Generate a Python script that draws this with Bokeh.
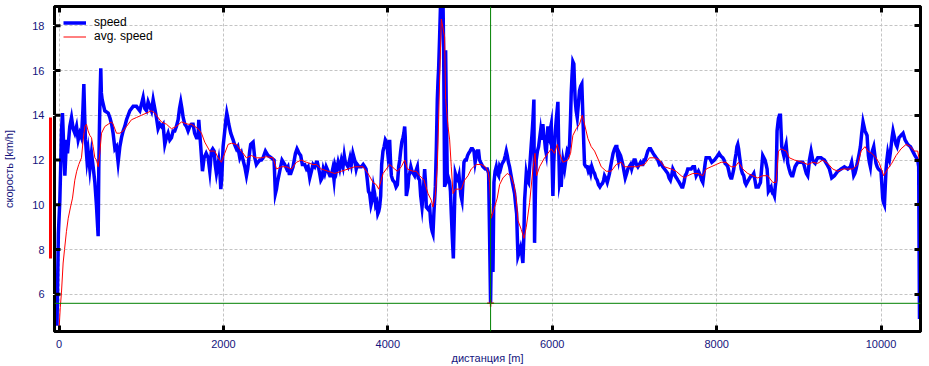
from bokeh.plotting import figure
from bokeh.models import (Range1d, LinearAxis, FixedTicker, Span, Legend, LegendItem)
from bokeh.embed import file_html
from bokeh.resources import INLINE

# ---------------- data ----------------
dist = [-25, -15, -8, 10, 22, 30, 42, 54, 71, 91, 103, 131, 152, 172, 192, 213, 233, 253, 273, 290,
        302, 312, 322, 340, 354, 375, 395, 415, 436, 455, 470, 476, 484, 492, 500, 508, 515, 525, 557, 598,
        618, 640, 658, 680, 699, 719, 740, 760, 780, 800, 821, 861, 902, 942, 983, 1023, 1044, 1064, 1084, 1104,
        1125, 1145, 1165, 1185, 1205, 1226, 1246, 1266, 1287, 1307, 1327, 1348, 1368, 1388, 1408, 1428, 1449, 1466, 1481, 1495,
        1510, 1530, 1550, 1570, 1591, 1611, 1631, 1650, 1672, 1692, 1700, 1724, 1745, 1765, 1790, 1814, 1834, 1854, 1870, 1887,
        1900, 1915, 1943, 1955, 1968, 1980, 1996, 2016, 2030, 2041, 2052, 2065, 2089, 2118, 2135, 2158, 2175, 2199, 2220, 2239,
        2260, 2280, 2295, 2308, 2320, 2332, 2361, 2381, 2401, 2420, 2442, 2462, 2482, 2511, 2543, 2584, 2616, 2632, 2645, 2657,
        2685, 2713, 2730, 2746, 2770, 2786, 2800, 2819, 2847, 2876, 2895, 2908, 2920, 2940, 2960, 2989, 3010, 3030, 3050, 3070,
        3090, 3111, 3130, 3143, 3160, 3171, 3185, 3200, 3215, 3232, 3250, 3273, 3295, 3313, 3330, 3346, 3360, 3374, 3395, 3415,
        3435, 3455, 3470, 3483, 3500, 3516, 3540, 3556, 3575, 3597, 3615, 3629, 3650, 3678, 3700, 3719, 3735, 3751, 3765, 3779,
        3795, 3808, 3825, 3840, 3852, 3864, 3878, 3889, 3900, 3913, 3925, 3941, 3955, 3970, 3985, 4002, 4012, 4022, 4032, 4043,
        4060, 4083, 4100, 4116, 4132, 4145, 4156, 4170, 4184, 4195, 4205, 4212, 4225, 4235, 4245, 4255, 4266, 4280, 4294, 4310,
        4326, 4340, 4359, 4370, 4387, 4400, 4416, 4430, 4448, 4458, 4468, 4490, 4509, 4520, 4529, 4540, 4549, 4560, 4578, 4590,
        4602, 4610, 4618, 4630, 4643, 4660, 4671, 4680, 4691, 4697, 4703, 4712, 4724, 4737, 4752, 4762, 4772, 4785, 4797, 4809,
        4821, 4837, 4853, 4866, 4878, 4890, 4902, 4914, 4926, 4940, 4955, 4970, 4983, 5000, 5015, 5030, 5048, 5062, 5076, 5090,
        5104, 5116, 5129, 5157, 5186, 5210, 5226, 5238, 5250, 5258, 5267, 5279, 5291, 5305, 5319, 5334, 5348, 5360, 5372, 5386,
        5400, 5415, 5429, 5441, 5453, 5467, 5481, 5495, 5510, 5526, 5542, 5555, 5567, 5575, 5583, 5600, 5615, 5630, 5643, 5654,
        5664, 5684, 5698, 5712, 5728, 5745, 5755, 5765, 5777, 5781, 5785, 5795, 5805, 5820, 5834, 5858, 5870, 5886, 5897, 5907,
        5917, 5927, 5937, 5947, 5958, 5968, 5978, 5988, 5998, 6008, 6018, 6028, 6038, 6049, 6059, 6069, 6079, 6089, 6099, 6109,
        6120, 6130, 6150, 6165, 6182, 6195, 6211, 6222, 6231, 6241, 6251, 6263, 6270, 6279, 6291, 6304, 6318, 6332, 6346, 6360,
        6368, 6377, 6385, 6393, 6410, 6426, 6440, 6454, 6468, 6482, 6500, 6515, 6530, 6547, 6563, 6580, 6596, 6612, 6625, 6636,
        6650, 6669, 6683, 6697, 6710, 6725, 6740, 6758, 6772, 6786, 6796, 6806, 6818, 6831, 6845, 6859, 6873, 6888, 6905, 6920,
        6935, 6952, 6966, 6981, 6995, 7009, 7025, 7042, 7058, 7074, 7088, 7102, 7117, 7131, 7147, 7163, 7180, 7196, 7212, 7228,
        7245, 7264, 7285, 7305, 7325, 7345, 7366, 7386, 7406, 7422, 7438, 7452, 7467, 7480, 7495, 7512, 7528, 7545, 7560, 7575,
        7588, 7603, 7617, 7633, 7649, 7670, 7690, 7710, 7730, 7740, 7751, 7765, 7779, 7791, 7803, 7818, 7832, 7842, 7852, 7862,
        7872, 7893, 7913, 7927, 7941, 7957, 7973, 7994, 8014, 8030, 8046, 8060, 8075, 8090, 8103, 8120, 8136, 8148, 8160, 8172,
        8184, 8197, 8209, 8223, 8237, 8247, 8257, 8267, 8277, 8288, 8298, 8314, 8330, 8345, 8358, 8372, 8387, 8403, 8419, 8436,
        8452, 8466, 8480, 8494, 8508, 8520, 8533, 8547, 8561, 8575, 8589, 8602, 8614, 8622, 8630, 8646, 8662, 8672, 8683, 8693,
        8703, 8713, 8723, 8730, 8735, 8744, 8752, 8764, 8776, 8784, 8792, 8804, 8817, 8831, 8845, 8855, 8865, 8882, 8898, 8912,
        8926, 8940, 8954, 8970, 8987, 9003, 9019, 9033, 9048, 9062, 9076, 9092, 9108, 9118, 9129, 9139, 9149, 9159, 9169, 9184,
        9198, 9214, 9230, 9250, 9270, 9290, 9311, 9327, 9343, 9357, 9372, 9386, 9400, 9416, 9433, 9453, 9473, 9494, 9514, 9534,
        9554, 9575, 9595, 9611, 9627, 9643, 9656, 9668, 9682, 9696, 9710, 9724, 9737, 9749, 9757, 9765, 9773, 9781, 9793, 9805,
        9818, 9830, 9838, 9846, 9858, 9870, 9878, 9886, 9898, 9911, 9925, 9939, 9953, 9967, 9983, 9999, 10010, 10020, 10030, 10041,
        10051, 10061, 10071, 10081, 10091, 10101, 10112, 10122, 10134, 10146, 10158, 10170, 10182, 10195, 10207, 10219, 10231, 10243, 10256, 10268,
        10280, 10292, 10308, 10324, 10340, 10357, 10371, 10385, 10399, 10413, 10430, 10446, 10458, 10463, 10468]

speed = [4.6, 7.0, 8.7, 10.2, 12.0, 13.3, 14.1, 12.9, 11.3, 12.9, 12.3, 13.5, 13.9, 13.4, 13.2, 13.5, 12.9, 13.2, 13.0, 14.2,
         15.4, 14.0, 12.9, 12.0, 12.4, 11.6, 12.3, 11.7, 11.0, 10.0, 9.0, 8.6, 11.7, 13.5, 15.0, 16.1, 15.0, 14.7, 14.2, 14.1,
         13.9, 13.6, 13.2, 12.5, 12.6, 11.9, 12.6, 13.0, 13.3, 13.5, 13.8, 14.2, 14.4, 14.4, 14.2, 14.8, 14.3, 14.2, 14.6, 14.4,
         14.2, 14.7, 14.3, 13.9, 13.4, 13.6, 13.5, 13.6, 12.7, 13.0, 13.2, 12.9, 13.0, 13.3, 13.3, 13.5, 13.8, 14.3, 14.6, 14.3,
         13.9, 13.6, 13.5, 13.3, 13.5, 13.6, 13.6, 13.2, 13.0, 13.0, 13.8, 12.6, 11.5, 12.1, 12.3, 12.1, 11.5, 12.4, 12.5, 12.4,
         11.8, 11.4, 12.0, 11.6, 10.7, 11.2, 12.6, 13.3, 13.8, 14.1, 13.9, 13.6, 13.2, 12.9, 12.7, 12.5, 12.6, 12.1, 12.3, 12.0,
         11.7, 11.3, 11.6, 12.0, 12.4, 12.7, 12.8, 12.1, 11.8, 11.9, 12.0, 12.0, 12.1, 12.4, 12.2, 12.1, 12.0, 10.5, 10.7, 11.0,
         11.5, 12.0, 11.9, 11.8, 11.6, 11.7, 11.4, 11.4, 11.7, 12.3, 12.5, 12.4, 12.3, 12.2, 11.8, 11.8, 11.6, 11.7, 11.2, 11.5,
         11.8, 11.7, 11.9, 11.9, 11.6, 11.4, 11.1, 11.2, 11.6, 11.4, 11.7, 11.5, 11.3, 11.3, 11.6, 11.1, 11.7, 11.5, 11.9, 11.6,
         12.0, 11.7, 12.2, 11.9, 11.8, 11.7, 12.1, 11.8, 12.3, 12.0, 11.6, 11.8, 11.7, 11.7, 11.8, 11.7, 11.6, 11.1, 10.6, 10.5,
         10.0, 10.2, 10.8, 10.5, 10.0, 10.1, 9.6, 9.7, 9.9, 10.4, 11.8, 12.4, 12.6, 12.9, 12.8, 12.2, 12.5, 12.9, 12.0, 11.3,
         11.1, 11.0, 10.8, 10.9, 11.7, 12.0, 12.4, 12.8, 13.0, 13.2, 13.5, 13.0, 10.4, 10.6, 10.8, 11.3, 11.4, 11.7, 11.5, 11.4,
         11.3, 11.5, 11.7, 11.2, 11.1, 10.4, 9.9, 10.5, 11.6, 11.0, 9.9, 9.8, 9.9, 9.3, 9.0, 8.8, 8.7, 9.6, 10.8, 12.5,
         14.7, 15.5, 16.1, 17.5, 19.2, 19.3, 19.2, 16.5, 10.8, 14.0, 16.9, 14.0, 11.1, 11.2, 11.0, 10.6, 9.6, 8.5, 7.6, 9.5,
         11.4, 11.2, 11.1, 11.3, 10.8, 10.4, 10.2, 11.0, 11.9, 12.0, 12.0, 12.2, 12.3, 12.4, 12.5, 12.5, 12.4, 11.9, 12.2, 12.4,
         12.4, 12.0, 11.9, 11.7, 11.6, 11.6, 11.4, 8.6, 5.6, 8.0, 9.6, 7.0, 11.0, 11.5, 11.7, 11.4, 11.3, 11.7, 11.6, 11.8,
         11.9, 12.0, 12.2, 12.4, 12.2, 11.9, 11.7, 11.4, 11.1, 10.8, 10.5, 10.0, 9.6, 8.6, 7.7, 7.9, 8.1, 7.8, 7.4, 8.5,
         10.2, 11.4, 11.1, 11.0, 11.8, 12.7, 13.2, 13.8, 14.7, 11.0, 8.3, 10.5, 12.0, 12.4, 12.6, 13.3, 12.9, 13.6, 13.1, 12.9,
         12.5, 12.3, 12.9, 13.5, 13.0, 12.9, 13.4, 13.6, 12.0, 10.4, 11.8, 12.7, 13.3, 13.8, 14.2, 14.6, 12.5, 11.0, 11.2, 10.8,
         11.6, 12.0, 11.6, 12.0, 12.4, 12.3, 12.7, 13.8, 15.0, 15.8, 16.4, 16.3, 15.5, 14.7, 14.2, 13.9, 14.5, 15.1, 15.3, 15.4,
         14.5, 13.5, 12.6, 11.8, 11.7, 11.7, 11.5, 11.6, 11.4, 11.7, 11.5, 11.4, 11.2, 11.1, 10.9, 10.8, 10.9, 10.96, 11.1, 11.3,
         11.2, 11.0, 11.2, 11.4, 11.7, 12.0, 12.3, 12.5, 12.6, 12.6, 12.2, 12.0, 12.3, 12.2, 12.0, 11.8, 11.5, 11.2, 11.4, 11.6,
         11.7, 11.8, 11.6, 11.8, 12.0, 12.0, 11.8, 11.7, 11.8, 11.9, 11.8, 11.8, 12.0, 12.0, 12.2, 12.4, 12.5, 12.5, 12.4, 12.3,
         12.2, 12.1, 12.0, 11.8, 11.85, 11.7, 11.6, 11.5, 11.4, 11.2, 11.1, 11.3, 11.6, 11.5, 11.3, 11.2, 11.1, 11.0, 10.9, 10.8,
         10.8, 11.0, 11.3, 11.4, 11.6, 11.6, 11.6, 11.7, 11.7, 11.5, 11.3, 11.4, 11.5, 11.4, 11.3, 11.1, 11.0, 11.3, 11.6, 11.9,
         12.1, 12.1, 12.1, 12.0, 11.9, 11.95, 12.0, 12.1, 12.2, 12.3, 12.2, 12.15, 12.1, 12.0, 11.85, 11.8, 11.7, 11.5, 11.3, 11.2,
         11.2, 11.4, 11.6, 12.0, 12.3, 12.6, 12.7, 12.5, 12.2, 11.9, 11.6, 11.4, 11.3, 11.0, 10.9, 11.0, 11.1, 11.2, 11.3, 11.3,
         11.4, 11.1, 10.8, 10.8, 10.8, 10.9, 11.0, 11.6, 12.2, 12.1, 12.0, 11.8, 11.6, 11.1, 10.6, 10.7, 10.8, 10.6, 10.5, 10.5,
         10.4, 10.8, 11.1, 12.3, 13.3, 13.6, 13.85, 14.0, 14.0, 13.3, 12.6, 12.4, 12.2, 12.5, 12.7, 12.3, 11.85, 11.6, 11.4, 11.3,
         11.3, 11.5, 11.7, 11.8, 11.9, 11.9, 11.9, 11.9, 11.9, 11.8, 11.6, 11.4, 11.3, 11.6, 12.0, 12.2, 12.4, 12.2, 12.0, 11.9,
         11.85, 12.0, 12.1, 12.1, 12.1, 12.05, 12.0, 11.9, 11.8, 11.7, 11.6, 11.4, 11.2, 11.25, 11.3, 11.4, 11.5, 11.55, 11.6, 11.65,
         11.7, 11.65, 11.6, 11.65, 11.7, 11.9, 11.6, 11.3, 11.4, 11.6, 11.85, 12.1, 12.35, 12.6, 12.9, 13.2, 13.45, 13.7, 13.5, 13.3,
         13.2, 13.1, 12.6, 12.2, 11.9, 11.7, 12.0, 12.3, 12.45, 12.6, 12.2, 11.85, 11.7, 11.6, 11.55, 11.5, 10.9, 10.3, 10.1, 10.0,
         10.8, 11.6, 12.0, 12.3, 12.1, 12.0, 12.3, 12.6, 13.0, 13.3, 13.1, 12.9, 12.7, 12.6, 12.8, 13.0, 13.05, 13.1, 13.15, 13.2,
         13.05, 12.9, 12.8, 12.7, 12.65, 12.6, 12.5, 12.4, 12.3, 12.2, 12.1, 12.0, 11.7, 8.0, 4.9]

avg_dist = [0, 15, 30, 50, 67, 90, 112, 140, 164, 192, 215, 240, 273, 294, 314, 334, 354, 375, 395, 415,
            436, 456, 476, 496, 517, 557, 598, 638, 658, 699, 740, 780, 821, 881, 942, 1003, 1064, 1124, 1165, 1205,
            1246, 1307, 1368, 1428, 1489, 1570, 1611, 1692, 1733, 1773, 1834, 1895, 1935, 1976, 2016, 2057, 2097, 2158, 2219, 2280,
            2341, 2401, 2462, 2523, 2604, 2645, 2705, 2766, 2827, 2888, 2948, 3009, 3090, 3131, 3192, 3273, 3354, 3435, 3516, 3597,
            3698, 3759, 3820, 3860, 3889, 3942, 4002, 4022, 4083, 4116, 4164, 4205, 4237, 4306, 4347, 4387, 4440, 4489, 4529, 4549,
            4578, 4602, 4618, 4634, 4651, 4671, 4691, 4703, 4732, 4752, 4772, 4793, 4821, 4861, 4894, 4934, 4975, 5015, 5076, 5137,
            5186, 5218, 5238, 5258, 5299, 5331, 5360, 5400, 5453, 5494, 5534, 5563, 5583, 5623, 5656, 5684, 5725, 5765, 5790, 5810,
            5846, 5907, 5988, 6028, 6061, 6089, 6130, 6190, 6223, 6251, 6292, 6332, 6365, 6393, 6434, 6474, 6515, 6563, 6596, 6657,
            6717, 6778, 6839, 6879, 6940, 7021, 7123, 7183, 7244, 7305, 7366, 7447, 7507, 7568, 7609, 7649, 7710, 7771, 7832, 7872,
            7933, 7994, 8055, 8115, 8176, 8225, 8265, 8318, 8379, 8440, 8500, 8561, 8622, 8683, 8723, 8752, 8784, 8845, 8885, 8946,
            9048, 9108, 9169, 9230, 9291, 9352, 9412, 9473, 9534, 9595, 9656, 9716, 9757, 9805, 9838, 9886, 9939, 9980, 10032, 10081,
            10130, 10183, 10243, 10305, 10357, 10406, 10446, 10466]

avg_speed = [4.4, 5.4, 6.1, 7.4, 8.0, 8.8, 9.4, 9.9, 10.3, 11.1, 11.5, 11.8, 12.1, 12.9, 13.5, 13.6, 13.3, 13.1, 13.0, 12.6,
             12.1, 12.0, 11.7, 12.3, 13.2, 13.5, 13.6, 13.7, 13.6, 13.2, 13.2, 13.3, 13.5, 13.8, 13.9, 14.0, 14.1, 14.2, 14.1, 13.9,
             13.7, 13.6, 13.4, 13.5, 13.7, 13.6, 13.6, 13.4, 13.2, 12.8, 12.4, 12.4, 12.1, 11.9, 12.3, 12.7, 12.75, 12.7, 12.4, 12.1,
             12.2, 12.1, 12.1, 12.15, 12.1, 11.6, 11.7, 11.7, 11.6, 11.9, 12.0, 11.9, 11.8, 11.8, 11.6, 11.5, 11.4, 11.5, 11.6, 11.7,
             11.7, 11.4, 11.0, 10.9, 10.7, 11.4, 11.7, 11.8, 11.6, 11.5, 11.7, 12.0, 11.6, 11.5, 11.5, 11.3, 11.1, 10.5, 10.2, 9.9,
             10.4, 11.7, 13.8, 16.1, 18.3, 17.9, 17.5, 14.7, 13.5, 12.9, 11.7, 10.5, 10.7, 10.7, 10.7, 11.1, 11.3, 11.6, 11.8, 11.8,
             11.7, 11.5, 11.0, 9.4, 9.9, 10.3, 10.9, 11.2, 11.4, 11.3, 10.9, 10.2, 9.3, 8.9, 8.5, 9.0, 10.1, 11.6, 12.3, 11.3,
             11.7, 12.1, 12.5, 12.3, 12.7, 12.3, 11.9, 12.0, 12.3, 13.1, 13.4, 13.6, 14.0, 13.6, 12.96, 12.6, 12.4, 12.0, 11.7, 11.5,
             11.5, 11.8, 11.9, 11.7, 11.7, 11.7, 11.8, 12.1, 12.1, 12.0, 11.7, 11.6, 11.5, 11.3, 11.2, 11.3, 11.4, 11.4, 11.3, 11.6,
             11.7, 11.8, 11.9, 11.9, 11.7, 11.7, 11.9, 11.6, 11.4, 11.3, 11.2, 11.3, 11.3, 11.0, 11.0, 12.4, 12.5, 12.4, 12.1, 12.0,
             11.9, 11.8, 11.9, 11.85, 12.0, 11.85, 11.6, 11.5, 11.6, 11.6, 11.6, 11.8, 12.4, 12.6, 12.4, 12.3, 12.1, 11.85, 11.3, 11.6,
             11.85, 12.2, 12.5, 12.7, 12.6, 12.4, 12.4, 12.0]

cursor_x = [5250]
cursor_y = [5.6]
range_bar = (7.6, 13.9)
x_ticks = [0, 2000, 4000, 6000, 8000, 10000]
y_ticks = [6, 8, 10, 12, 14, 16, 18]

NAVY = "#14147d"
FONT = "Liberation Sans"

x_start, x_end = -55, 10480
p = figure(width=929, height=366, output_backend="svg", toolbar_location=None,
           x_range=Range1d(x_start, x_end), y_range=Range1d(4.34, 18.86),
           min_border_left=53, min_border_right=9, min_border_top=6, min_border_bottom=0,
           x_axis_label="дистанция [m]")
p.outline_line_color = "black"
p.outline_line_width = 3
p.background_fill_color = "white"
p.border_fill_color = "white"


def frame_axis(ax, ticks):
    """black frame axis with inward ticks"""
    ax.ticker = FixedTicker(ticks=ticks)
    ax.axis_line_color = "black"
    ax.axis_line_width = 3
    ax.major_tick_in = 6
    ax.major_tick_out = 0
    ax.major_tick_line_width = 3
    ax.major_tick_line_color = "black"
    ax.minor_tick_line_color = None
    ax.major_label_text_font = FONT
    ax.major_label_text_font_size = "11px"
    ax.major_label_text_color = NAVY
    ax.axis_label_text_font = FONT
    ax.axis_label_text_font_size = "11px"
    ax.axis_label_text_font_style = "normal"
    ax.axis_label_text_color = NAVY


def hide_labels(ax, standoff=0):
    ax.major_label_text_color = None
    ax.major_label_text_font_size = "1px"
    ax.major_label_standoff = standoff


# bottom axis (with labels)
frame_axis(p.xaxis[0], x_ticks)
p.xaxis[0].major_label_standoff = 8
p.xaxis[0].axis_label_standoff = 1

# inner left axis: frame line only; its (white) outer ticks leave a gap before the red bar
inner = p.yaxis[0]
frame_axis(inner, [y for y in y_ticks if not (range_bar[0] <= y <= range_bar[1])])
hide_labels(inner)
inner.major_tick_in = 0
inner.major_tick_out = 4
inner.major_tick_line_color = "white"
inner.major_tick_line_width = 1

# red range bar next to the frame
bar_axis = LinearAxis(bounds=range_bar, ticker=FixedTicker(ticks=[]))
bar_axis.axis_line_color = "#ff0000"
bar_axis.axis_line_width = 3
bar_axis.axis_line_cap = "butt"
bar_axis.major_tick_line_color = None
bar_axis.minor_tick_line_color = None
hide_labels(bar_axis)
p.add_layout(bar_axis, "left")

# outer left axis: tick labels and title only
label_axis = LinearAxis(axis_label="скорость [km/h]")
frame_axis(label_axis, y_ticks)
label_axis.axis_line_color = None
label_axis.major_tick_line_color = None
label_axis.major_label_standoff = 6
label_axis.axis_label_standoff = 14
p.add_layout(label_axis, "left")

top_axis = LinearAxis()
frame_axis(top_axis, x_ticks)
hide_labels(top_axis)
p.add_layout(top_axis, "above")

right_axis = LinearAxis()
frame_axis(right_axis, y_ticks)
hide_labels(right_axis)
p.add_layout(right_axis, "right")

for g, t in ((p.xgrid[0], x_ticks), (p.ygrid[0], y_ticks)):
    g.ticker = FixedTicker(ticks=t)
    g.grid_line_color = "#c4c4c4"
    g.grid_line_dash = "3 2"
    g.grid_line_width = 1

# cursor cross-hair
p.add_layout(Span(location=cursor_y[0], dimension="width", line_color="#008000", line_width=1))
p.add_layout(Span(location=cursor_x[0], dimension="height", line_color="#008000", line_width=1))

r_speed = p.line(dist, speed, line_color="#0000ff", line_width=3.5, line_join="miter")
r_avg = p.line(avg_dist, avg_speed, line_color="#ff0000", line_width=1)
p.scatter(cursor_x, cursor_y, marker="cross", size=7, line_color="#ff0000", line_width=1.5)

# inward left ticks (half of each dash is clipped away by the frame)
p.scatter([x_start] * len(y_ticks), y_ticks, marker="dash", size=12,
          line_color="black", line_width=3)

legend = Legend(items=[LegendItem(label="speed", renderers=[r_speed]),
                       LegendItem(label="avg. speed", renderers=[r_avg])],
                location="top_left", background_fill_alpha=0, border_line_alpha=0,
                label_text_font=FONT, label_text_font_size="12px", label_text_color="black",
                glyph_width=23, glyph_height=13, label_height=13, spacing=0,
                padding=9, margin=0, label_standoff=8)
p.add_layout(legend)

open("out.html", "w").write(file_html(p, INLINE))
